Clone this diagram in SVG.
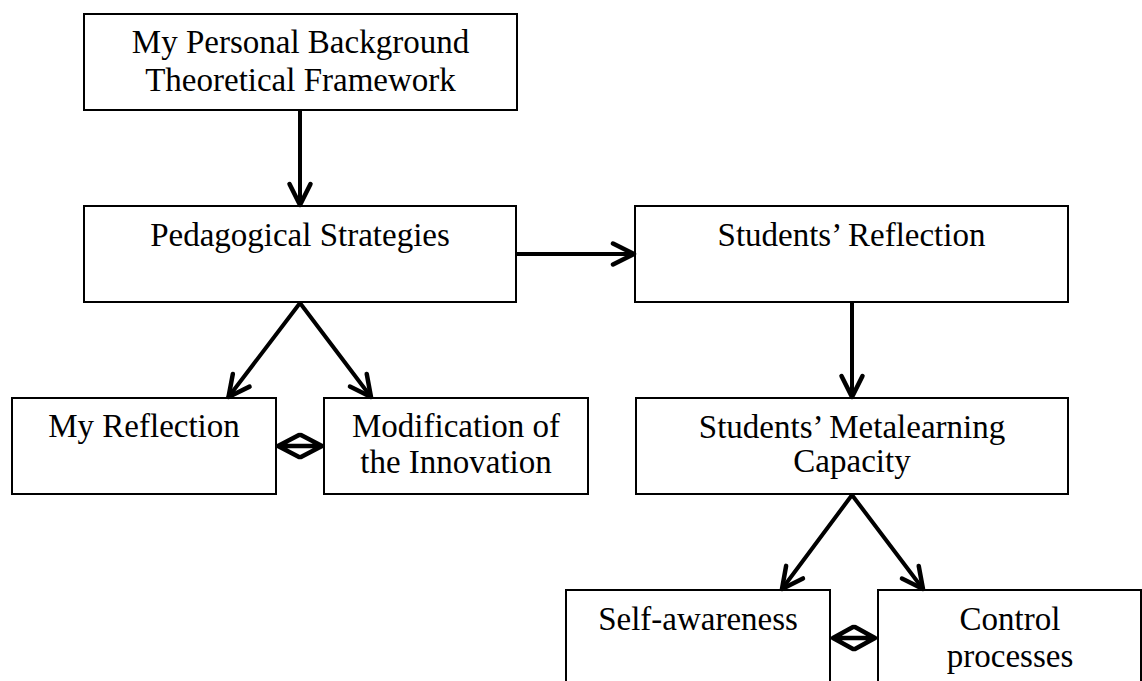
<svg xmlns="http://www.w3.org/2000/svg" width="1142" height="681" viewBox="0 0 1142 681">
<style>
.box{fill:#fff;stroke:#000;stroke-width:2}
.t{font-family:"Liberation Serif","Times New Roman",serif;font-size:33px;fill:#000;text-anchor:middle}
.c{fill:none;stroke:#000;stroke-width:4;stroke-linecap:round;stroke-linejoin:round}
.c2{fill:none;stroke:#000;stroke-width:4.5;stroke-linecap:round;stroke-linejoin:round}
</style>
<defs>
<marker id="ah" markerUnits="userSpaceOnUse" markerWidth="40" markerHeight="40" refX="0" refY="0" orient="auto" overflow="visible" viewBox="-30 -20 40 40">
<path d="M-21,-10.5 L0,0 L-21,10.5" fill="none" stroke="#000" stroke-width="4.5" stroke-linecap="round" stroke-linejoin="round"/>
</marker>
</defs>
<rect width="1142" height="681" fill="#fff"/>
<g id="n1"><rect class="box" x="84" y="14" width="433" height="96"/><text class="t" x="300.5" y="53">My Personal Background</text><text class="t" x="300.5" y="91">Theoretical Framework</text></g>
<g id="n2"><rect class="box" x="84" y="206" width="432" height="96"/><text class="t" x="300" y="246">Pedagogical Strategies</text></g>
<g id="n3"><rect class="box" x="635" y="206" width="433" height="96"/><text class="t" x="851.5" y="246">Students’ Reflection</text></g>
<g id="n4"><rect class="box" x="12" y="398" width="264" height="96"/><text class="t" x="144" y="437">My Reflection</text></g>
<g id="n5"><rect class="box" x="324" y="398" width="264" height="96"/><text class="t" x="456" y="437">Modification of</text><text class="t" x="456" y="473">the Innovation</text></g>
<g id="n6"><rect class="box" x="636" y="398" width="432" height="96"/><text class="t" x="852" y="438">Students’ Metalearning</text><text class="t" x="852" y="472">Capacity</text></g>
<g id="n7"><rect class="box" x="566" y="590" width="264" height="110"/><text class="t" x="698" y="630">Self-awareness</text></g>
<g id="n8"><rect class="box" x="878" y="590" width="263" height="110"/><text class="t" x="1010" y="630">Control</text><text class="t" x="1010" y="667">processes</text></g>
<g id="connectors">
<line class="c" x1="300" y1="111" x2="300" y2="205" marker-end="url(#ah)"/>
<line class="c" x1="517" y1="254" x2="634" y2="254" marker-end="url(#ah)"/>
<line class="c" x1="300" y1="303" x2="228.5" y2="397" marker-end="url(#ah)"/>
<line class="c" x1="300" y1="303" x2="371" y2="397" marker-end="url(#ah)"/>
<line class="c" x1="852" y1="303" x2="852" y2="397" marker-end="url(#ah)"/>
<line class="c" x1="852" y1="495" x2="782" y2="589" marker-end="url(#ah)"/>
<line class="c" x1="852" y1="495" x2="923" y2="589" marker-end="url(#ah)"/>
<path class="c2" d="M299,435 L278,446 L299,457 M301,435 L322,446 L301,457 M278,446 L322,446"/>
<path class="c2" d="M853,627 L833,638 L853,649 M855,627 L875,638 L855,649 M833,638 L875,638"/>
</g>
</svg>
